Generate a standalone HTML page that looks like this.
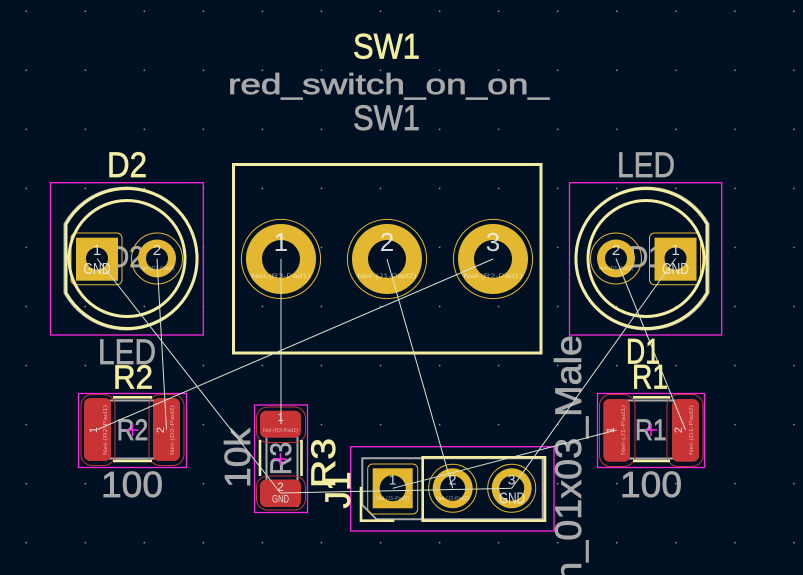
<!DOCTYPE html>
<html><head><meta charset="utf-8"><style>
html,body{margin:0;padding:0;background:#001023;width:803px;height:575px;overflow:hidden;}
svg{display:block;overflow:hidden;}
text{font-family:"Liberation Sans",sans-serif;}
.thick text{stroke-width:0.7;}
</style></head><body>
<svg width="803" height="575" viewBox="0 0 803 575" xmlns="http://www.w3.org/2000/svg">
<defs>
<pattern id="grid" x="25.5" y="10.5" width="59.05" height="59.05" patternUnits="userSpaceOnUse">
<rect x="0" y="0" width="1.5" height="1.5" fill="#8a93a3"/>
</pattern>
<clipPath id="frame"><rect width="803" height="575"/></clipPath>
</defs>
<g clip-path="url(#frame)">
<rect width="803" height="575" fill="#001023"/>
<rect width="803" height="575" fill="url(#grid)"/>

<!-- fab layer (gray) -->
<g fill="none" stroke="#a9a9a9" stroke-width="2">
 <path d="M64.5 224 A71 71 0 1 1 64.5 293 Z"/>
 <path d="M708.5 224 A71 71 0 1 0 708.5 293 Z"/>
 <rect x="90" y="400.5" width="85" height="58"/>
 <rect x="609" y="400.5" width="85" height="58"/>
 <rect x="266.5" y="414" width="31" height="92"/>
 <path d="M362.3 458.3 H542.7 V519.3 H376.5 L362.3 505 Z"/>
</g>
<g fill="#a9a9a9" stroke="#a9a9a9" class="thick">
 <text x="127" y="267" font-size="30" text-anchor="middle" textLength="34" lengthAdjust="spacingAndGlyphs">D2</text>
 <text x="646" y="267" font-size="30" text-anchor="middle" textLength="34" lengthAdjust="spacingAndGlyphs">D1</text>
 <text x="116.7" y="440" font-size="30" textLength="31.6" lengthAdjust="spacingAndGlyphs">R2</text>
 <text x="635" y="440" font-size="30" textLength="31.7" lengthAdjust="spacingAndGlyphs">R1</text>
 <text transform="translate(291,475) rotate(-90)" font-size="30" textLength="33" lengthAdjust="spacingAndGlyphs">R3</text>
 <text x="98" y="364" font-size="35" textLength="58" lengthAdjust="spacingAndGlyphs">LED</text>
 <text x="617" y="177" font-size="35" textLength="58" lengthAdjust="spacingAndGlyphs">LED</text>
 <text x="101" y="497" font-size="36" textLength="62" lengthAdjust="spacingAndGlyphs">100</text>
 <text x="620" y="497" font-size="36" textLength="62" lengthAdjust="spacingAndGlyphs">100</text>
 <text transform="translate(250,488) rotate(-90)" font-size="36" textLength="60" lengthAdjust="spacingAndGlyphs">10k</text>
 <text x="228" y="94" font-size="29" textLength="321" lengthAdjust="spacingAndGlyphs">red_switch_on_on_</text>
 <text x="353" y="130" font-size="35" textLength="67" lengthAdjust="spacingAndGlyphs">SW1</text>
 <text transform="translate(581,652) rotate(-90)" font-size="37" textLength="317" lengthAdjust="spacingAndGlyphs">Conn_01x03_Male</text>
</g>

<!-- courtyard -->
<g fill="none" stroke="#ff26e2" stroke-width="1.3">
 <rect x="50.5" y="182.7" width="152.8" height="152.3"/>
 <rect x="569.5" y="182.7" width="152.2" height="152.3"/>
 <rect x="78.5" y="393.5" width="108" height="74"/>
 <rect x="597.5" y="393.5" width="107" height="74"/>
 <rect x="254.5" y="405" width="53" height="107.5"/>
 <rect x="350.7" y="446.7" width="203.3" height="84.3"/>
</g>

<!-- through-hole pads -->
<g fill="none" stroke="#e3b830" stroke-width="1">
 <circle cx="281" cy="259" r="39.6"/>
 <circle cx="387" cy="259" r="39.6"/>
 <circle cx="493" cy="259" r="39.6"/>
 <rect x="71" y="233" width="51" height="51.7" rx="5"/>
 <circle cx="157" cy="258.5" r="25.5"/>
 <rect x="649.5" y="233" width="51" height="51.7" rx="5"/>
 <circle cx="616" cy="258.5" r="25.5"/>
 <rect x="367.7" y="464" width="50" height="50" rx="5"/>
 <circle cx="452.7" cy="488.3" r="24"/>
 <circle cx="511.7" cy="488.3" r="24"/>
</g>
<g fill="#e3b830">
 <circle cx="281" cy="259" r="35"/>
 <circle cx="387" cy="259" r="35"/>
 <circle cx="493" cy="259" r="35"/>
 <rect x="76" y="237.7" width="42" height="43"/>
 <circle cx="157" cy="258.5" r="19"/>
 <rect x="654.5" y="237.7" width="42" height="43"/>
 <circle cx="616" cy="258.5" r="19"/>
 <rect x="372.7" y="468.3" width="40" height="40"/>
 <circle cx="452.7" cy="488.3" r="20"/>
 <circle cx="511.7" cy="488.3" r="20"/>
</g>
<g fill="#001023">
 <circle cx="281" cy="259" r="19"/>
 <circle cx="387" cy="259" r="19"/>
 <circle cx="493" cy="259" r="19"/>
 <circle cx="97" cy="258.5" r="11"/>
 <circle cx="157" cy="258.5" r="11"/>
 <circle cx="675.5" cy="258.5" r="11"/>
 <circle cx="616" cy="258.5" r="11"/>
 <circle cx="392.7" cy="488.3" r="13"/>
 <circle cx="452.7" cy="488.3" r="12.5"/>
 <circle cx="511.7" cy="488.3" r="12.5"/>
</g>

<!-- SMD pads -->
<g fill="#c83434">
 <rect x="84" y="398" width="27" height="63" rx="6"/>
 <rect x="153" y="398" width="27" height="63" rx="6"/>
 <rect x="603.3" y="399" width="26.7" height="62.7" rx="6"/>
 <rect x="672" y="399" width="27" height="62.7" rx="6"/>
 <rect x="260" y="410.7" width="41" height="27" rx="6"/>
 <rect x="260" y="479.5" width="41" height="27.5" rx="6"/>
</g>
<g fill="none" stroke="#c83434" stroke-width="1">
 <rect x="81" y="394.5" width="34" height="71" rx="11"/>
 <rect x="149" y="394.5" width="35" height="71" rx="11"/>
 <rect x="599.5" y="394.5" width="35.5" height="72" rx="11"/>
 <rect x="667" y="394.5" width="36" height="72" rx="11"/>
 <rect x="256.5" y="407" width="49" height="35.5" rx="11"/>
 <rect x="256.5" y="476" width="49" height="34" rx="11"/>
</g>

<!-- silkscreen -->
<g fill="none" stroke="#f2eda1" stroke-width="3">
 <rect x="233.5" y="164.5" width="307.5" height="188.5"/>
 <path d="M66 224.2 A70 70 0 1 1 66 292.8 Z"/>
 <circle cx="127" cy="258.5" r="58"/>
 <path d="M707 224.2 A70 70 0 1 0 707 292.8 Z"/>
 <circle cx="646" cy="258.5" r="58"/>
</g>
<g fill="none" stroke="#f2eda1" stroke-width="2.6">
 <path d="M113 397.3 H152 M113 461 H152"/>
 <path d="M633 397.3 H670 M633 461 H670"/>
 <path d="M260 440 V476 M301.5 440 V476"/>
 <rect x="422.7" y="457.3" width="122.3" height="63.4"/>
 <path d="M361 486.7 V520.7 H394.3"/>
</g>

<!-- ratsnest -->
<g stroke="#d8e2cc" stroke-width="1" fill="none">
 <line x1="281" y1="259" x2="281" y2="424"/>
 <line x1="387" y1="259" x2="452.7" y2="488.3"/>
 <line x1="493" y1="259" x2="97.5" y2="429.5"/>
 <line x1="97" y1="258.5" x2="280.5" y2="493"/>
 <line x1="157" y1="258.5" x2="166.5" y2="429.5"/>
 <line x1="280.5" y1="493" x2="511.7" y2="488.3"/>
 <line x1="392.7" y1="488.3" x2="616.7" y2="430"/>
 <line x1="511.7" y1="488.3" x2="675.5" y2="258.5"/>
 <line x1="616" y1="258.5" x2="685.5" y2="430"/>
</g>

<!-- crosshairs -->
<g stroke="#ff26e2" stroke-width="1.5">
 <path d="M126.5 430 H138.5 M132.5 424 V436"/>
 <path d="M645 430 H657 M651 424 V436"/>
 <path d="M274.5 459 H286.5 M280.5 453 V465"/>
</g>

<!-- pad numbers -->
<g fill="#f2f2f2" fill-opacity="0.88" text-anchor="middle">
 <text x="281" y="251" font-size="26">1</text>
 <text x="387" y="251" font-size="26">2</text>
 <text x="493" y="251" font-size="26">3</text>
 <text x="97" y="255" font-size="15">1</text>
 <text x="97" y="274" font-size="16" textLength="27" lengthAdjust="spacingAndGlyphs">GND</text>
 <text x="157" y="255" font-size="15">2</text>
 <text x="675.5" y="255" font-size="15">1</text>
 <text x="675.5" y="274" font-size="16" textLength="27" lengthAdjust="spacingAndGlyphs">GND</text>
 <text x="616" y="255" font-size="15">2</text>
 <text x="392.7" y="484.5" font-size="14">1</text>
 <text x="452.7" y="484.5" font-size="14">2</text>
 <text x="511.7" y="484.5" font-size="14">3</text>
 <text x="512" y="503.5" font-size="16" textLength="26" lengthAdjust="spacingAndGlyphs">GND</text>
 <text x="280.5" y="421" font-size="11">1</text>
 <text x="280.5" y="491" font-size="12">2</text>
 <text x="280.5" y="502.5" font-size="11" textLength="17" lengthAdjust="spacingAndGlyphs">GND</text>
 <text transform="translate(97,430) rotate(-90)" font-size="11">1</text>
 <text transform="translate(164,430) rotate(-90)" font-size="11">2</text>
 <text transform="translate(614,430) rotate(-90)" font-size="11">1</text>
 <text transform="translate(682,430) rotate(-90)" font-size="11">2</text>
</g>
<g fill="#ffffff" fill-opacity="0.55" text-anchor="middle" font-size="6.5">
 <text x="281" y="278" textLength="59" lengthAdjust="spacingAndGlyphs">Net-(R3-Pad1)</text>
 <text x="387" y="278" textLength="59" lengthAdjust="spacingAndGlyphs">Net-(J1-Pad2)</text>
 <text x="493" y="278" textLength="59" lengthAdjust="spacingAndGlyphs">Net-(R2-Pad1)</text>
 <text x="157" y="270" font-size="5" textLength="35" lengthAdjust="spacingAndGlyphs">Net-(D2-Pad2)</text>
 <text x="616" y="270" font-size="5" textLength="35" lengthAdjust="spacingAndGlyphs">Net-(D1-Pad2)</text>
 <text x="280.5" y="432" font-size="5" textLength="35" lengthAdjust="spacingAndGlyphs">Net-(R3-Pad1)</text>
 <text x="392.7" y="500" font-size="5" textLength="33" lengthAdjust="spacingAndGlyphs">Net-(J1-Pad1)</text>
 <text x="452.7" y="500" font-size="5" textLength="33" lengthAdjust="spacingAndGlyphs">Net-(J1-Pad2)</text>
 <text transform="translate(107,430) rotate(-90)" font-size="5.5" textLength="50" lengthAdjust="spacingAndGlyphs">Net-(R2-Pad1)</text>
 <text transform="translate(174,430) rotate(-90)" font-size="5.5" textLength="50" lengthAdjust="spacingAndGlyphs">Net-(D2-Pad2)</text>
 <text transform="translate(625,430) rotate(-90)" font-size="5.5" textLength="50" lengthAdjust="spacingAndGlyphs">Net-(J1-Pad1)</text>
 <text transform="translate(693,430) rotate(-90)" font-size="5.5" textLength="50" lengthAdjust="spacingAndGlyphs">Net-(D1-Pad2)</text>
</g>

<!-- silkscreen reference texts -->
<g fill="#f2eda1" stroke="#f2eda1" class="thick">
 <text x="353" y="58.5" font-size="35" textLength="67" lengthAdjust="spacingAndGlyphs">SW1</text>
 <text x="107" y="177" font-size="35" textLength="40" lengthAdjust="spacingAndGlyphs">D2</text>
 <text x="113" y="388.5" font-size="33" textLength="40" lengthAdjust="spacingAndGlyphs">R2</text>
 <text x="626" y="363.5" font-size="35" textLength="34" lengthAdjust="spacingAndGlyphs">D1</text>
 <text x="632" y="388.5" font-size="34" textLength="36" lengthAdjust="spacingAndGlyphs">R1</text>
 <text transform="translate(335,488) rotate(-90)" font-size="34" textLength="50" lengthAdjust="spacingAndGlyphs">R3</text>
 <text transform="translate(350,508.5) rotate(-90)" font-size="35" textLength="37" lengthAdjust="spacingAndGlyphs">J1</text>
</g>
</g>
</svg>
</body></html>
